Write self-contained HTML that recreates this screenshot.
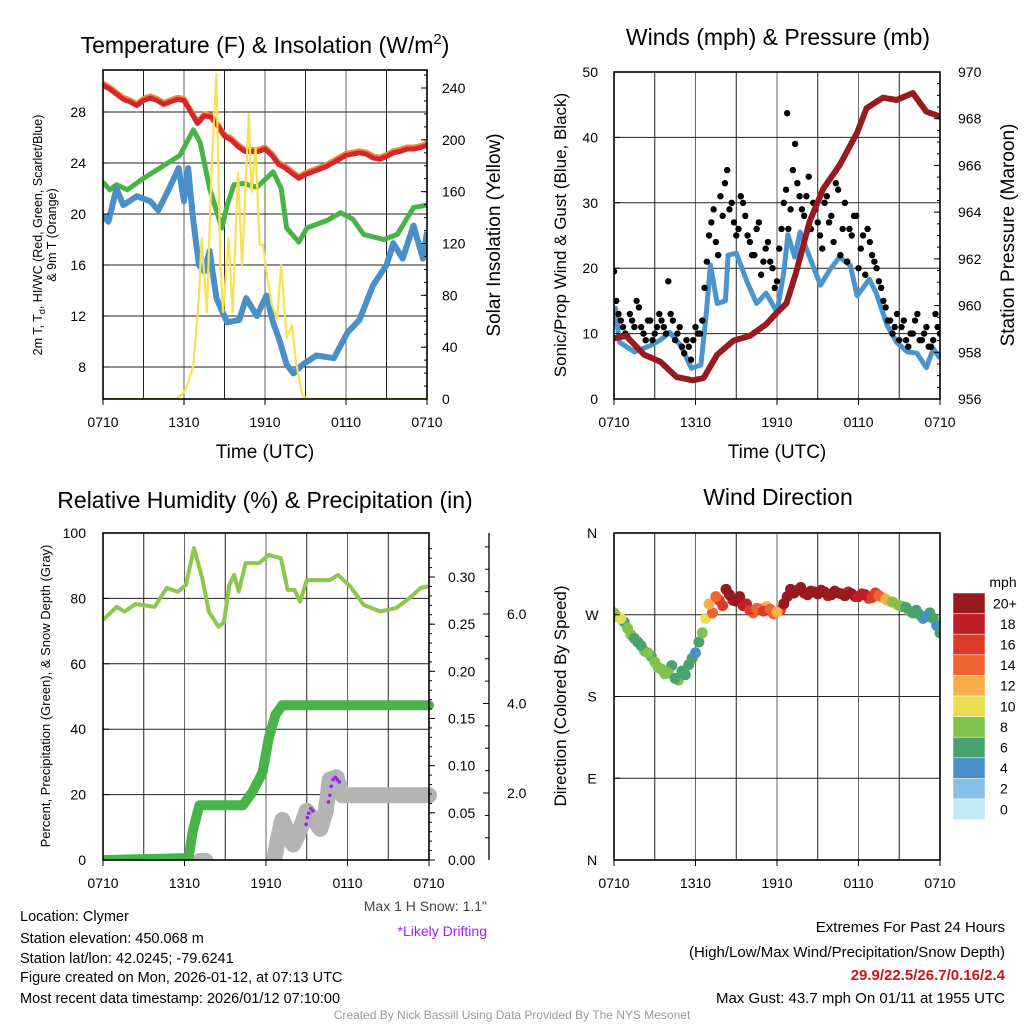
<!DOCTYPE html>
<html><head><meta charset="utf-8"><style>
body{margin:0;background:#fff;}
svg text{font-family:"Liberation Sans",sans-serif;}
</style></head><body>
<svg id="s" width="1024" height="1024" xmlns="http://www.w3.org/2000/svg">
<rect width="1024" height="1024" fill="#fff"/>
<text x="265" y="53" font-size="23" text-anchor="middle">Temperature (F) &amp; Insolation (W/m<tspan dy="-9" font-size="15">2</tspan><tspan dy="9">)</tspan></text>
<text x="778" y="45" font-size="23" text-anchor="middle">Winds (mph) &amp; Pressure (mb)</text>
<text x="265" y="508" font-size="23" text-anchor="middle">Relative Humidity (%) &amp; Precipitation (in)</text>
<text x="778" y="505" font-size="23" text-anchor="middle">Wind Direction</text>
<text transform="translate(42,235) rotate(-90)" font-size="12.5" text-anchor="middle">2m T, T<tspan dy="3" font-size="9">d</tspan><tspan dy="-3">, HI/WC (Red, Green, Scarlet/Blue)</tspan></text>
<text transform="translate(56,235) rotate(-90)" font-size="12.5" text-anchor="middle">&amp; 9m T (Orange)</text>
<text transform="translate(500,235) rotate(-90)" font-size="19" text-anchor="middle">Solar Insolation (Yellow)</text>
<text transform="translate(566,235) rotate(-90)" font-size="17" text-anchor="middle">Sonic/Prop Wind &amp; Gust (Blue, Black)</text>
<text transform="translate(1014,235) rotate(-90)" font-size="19" text-anchor="middle">Station Pressure (Maroon)</text>
<text transform="translate(50,696) rotate(-90)" font-size="13" text-anchor="middle">Percent, Precipitation (Green), &amp; Snow Depth (Gray)</text>
<text transform="translate(566,696) rotate(-90)" font-size="17" text-anchor="middle">Direction (Colored By Speed)</text>
<text x="265" y="458" font-size="19" text-anchor="middle">Time (UTC)</text>
<text x="777" y="458" font-size="19" text-anchor="middle">Time (UTC)</text>
<text x="487" y="911" font-size="14" fill="#444" text-anchor="end">Max 1 H Snow: 1.1"</text>
<text x="487" y="936" font-size="14" fill="#a020f0" text-anchor="end">*Likely Drifting</text>
<g font-size="14.5">
<text x="20" y="921">Location: Clymer</text>
<text x="20" y="943">Station elevation: 450.068 m</text>
<text x="20" y="963">Station lat/lon: 42.0245; -79.6241</text>
<text x="20" y="982">Figure created on Mon, 2026-01-12, at 07:13 UTC</text>
<text x="20" y="1003">Most recent data timestamp: 2026/01/12 07:10:00</text>
</g>
<g font-size="15" text-anchor="end">
<text x="1005" y="932">Extremes For Past 24 Hours</text>
<text x="1005" y="957">(High/Low/Max Wind/Precipitation/Snow Depth)</text>
<text x="1005" y="980" fill="#c8161d" font-weight="bold">29.9/22.5/26.7/0.16/2.4</text>
<text x="1005" y="1003">Max Gust: 43.7 mph On 01/11 at 1955 UTC</text>
</g>
<text x="512" y="1019" font-size="12" fill="#999" text-anchor="middle">Created By Nick Bassill Using Data Provided By The NYS Mesonet</text>
</svg>
<script>
// ---- data ----
const tempHr=[0,0.5,1,1.5,2,2.5,3,3.5,4,4.5,5,5.5,6,6.5,7,7.5,8,8.5,9,9.5,10,10.5,11,11.5,12,12.5,13,13.5,14,14.5,15,15.5,16,16.5,17,17.5,18,18.5,19,19.5,20,20.5,21,21.5,22,22.5,23,23.5,24];
const temp=[30.1,29.8,29.4,29.0,28.8,28.5,28.9,29.1,28.9,28.6,28.8,29.0,28.9,28.0,27.1,27.7,27.6,26.9,26.1,25.8,25.3,24.9,24.9,24.9,25.1,24.6,23.9,23.6,23.2,22.8,23.1,23.3,23.5,23.7,24.0,24.3,24.6,24.7,24.8,24.7,24.4,24.3,24.5,24.8,24.9,25.1,25.1,25.2,25.4];
const dewHr=[0,0.5,1,1.8,3,4.2,5.7,6.7,7.2,7.9,8.8,9.2,9.7,10.4,11.4,12.6,13.2,13.6,14.5,15.1,16.6,17.6,18.5,19.3,20.8,21.8,23,24];
const dew=[22.5,21.9,22.3,21.9,22.8,23.6,24.6,26.6,25.6,22.0,18.9,20.7,22.3,22.4,22.1,23.3,22.0,18.9,17.8,18.9,19.5,20.1,19.6,18.4,18.0,18.4,20.5,20.7];
const chillHr=[0,0.4,1,1.5,2.5,3.5,4.1,4.9,5.6,6.0,6.3,6.7,7.1,7.5,7.9,8.4,9.2,10.1,10.6,11.4,12.1,12.6,13.1,13.6,14.1,14.8,15.8,17.1,18.1,19,20,21,21.5,22.2,23,23.7,24];
const chill=[19.9,19.4,22.0,20.7,21.4,21.0,20.3,22.0,23.6,21.0,23.6,19.4,16.0,15.5,17.1,13.4,11.5,11.7,13.4,12.0,13.6,11.5,10.0,8.2,7.5,8.2,8.9,8.7,10.7,11.7,14.4,16.0,17.7,16.5,19.1,16.5,18.6];
const solHr=[0,5.4,5.9,6.2,6.7,7.1,7.3,7.7,8.05,8.4,8.7,8.9,9.3,9.6,10.0,10.3,10.8,11.0,11.3,11.6,11.85,12.1,12.5,12.9,13.2,13.6,14.0,14.3,14.8,15.2,24];
const sol=[0,0,4,9,26,78,124,67,180,251,103,67,124,67,175,103,220,160,194,119,119,98,73,62,103,47,57,28,2,0,0];
const presHr=[0,0.9,2.2,3.4,4.6,5.8,6.6,7.6,8.8,10,11.2,12,12.7,13.4,14.4,15.4,16.6,17.9,18.6,19.8,20.8,22,23,24];
const pres=[958.6,958.7,957.9,957.6,956.94,956.8,956.9,957.9,958.5,958.7,959.2,959.7,960.1,961.4,963.6,965.0,966.0,967.4,968.45,968.9,968.8,969.1,968.3,968.1];
const windHr=[0,0.1,0.4,1.5,2.7,3.4,4.1,4.9,5.7,6.4,6.8,7.1,7.6,8.2,8.4,9,9.8,10.5,11.2,12,12.5,12.8,13.3,13.7,14.4,15.2,15.9,16.6,17.4,17.9,18.8,19.3,20.1,20.8,21.6,22.3,23,23.5,24];
const wind=[11,13.9,8.7,7.2,8.2,9.0,10.2,8.2,4.7,5.2,13.3,20.5,14.6,15.0,22.0,22.3,17.9,14.6,16.2,13.3,19.4,25.1,21.7,25.5,21.7,17.4,19.8,21.7,20.4,15.8,18.3,16.2,11.3,8.7,7.2,7.0,4.8,7.7,6.2];
const gustA=[19.5,13,11,9.5,12,15,11,9,12,10,13,11,18,12,10,8,9,6,11,10,17,25,29,22,28,35,30,25,31,28,24,22,27,21,24,20,18,26,32,29,39,31,28,34,30,27,23,31,28,33,22,30,26,28,20,25,26,22,20,17,14,12,11,9,12,8,10,13,9,11,8,13,10];
const gustB=[15,12,10,13,11,14,10,12,9,11,12,10,13,9,11,7,8,9,10,12,21,27,24,31,33,29,27,26,30,25,22,26,19,23,21,17,23,30,26,35,33,29,31,26,29,25,30,27,24,32,26,21,25,28,23,19,24,21,18,15,12,10,13,11,9,10,12,9,10,8,9,11];
const maxGustHr=[12.75];
const maxGust=[43.7];
const rhHr=[0,1,1.6,2.4,3.8,4.7,5.5,6.1,6.7,7.3,7.8,8.5,8.9,9.3,9.65,10,10.5,11.5,12.2,13.1,13.6,14.1,14.5,15,16.2,16.7,17.3,18.2,19.2,20.4,21.6,22.6,23.4,24];
const rh=[73.4,77.4,76,78.3,77.4,83.2,82,84.1,95.4,86.2,75.9,71.3,72.7,84.1,87.2,82.1,90.8,90.8,93.3,92.3,82.6,82.6,79,85.6,85.6,85.6,87.2,83.7,78,76,77.1,80.2,83.2,83.7];
const precHr=[0,6.3,6.6,7.1,10.3,11.0,11.75,12.2,12.7,13.2,24];
const prec=[0,0.002,0.03,0.058,0.058,0.072,0.093,0.129,0.154,0.164,0.164];
const snowHr=[12.6,12.9,13.2,13.5,14.0,14.4,15.0,15.5,16.0,16.4,16.7,17.2,17.6,18,24];
const snow=[0.5,1.0,1.4,1.2,0.85,1.1,1.6,1.4,1.2,1.6,2.3,2.35,1.95,1.95,1.95];
const snowBumpHr=[7.1,7.6];
const snowBump=[0.5,0.5];
const driftHr=[14.95,15.05,15.15,15.3,15.45,16.6,16.7,16.8,16.95,17.1,17.25,17.4];
const drift=[1.3,1.45,1.55,1.65,1.6,1.8,1.95,2.15,2.3,2.35,2.3,2.25];
const dirHr=[0,0.5,1,1.5,2,2.5,3,3.5,4,4.5,5,5.5,6,6.5,7,7.5,8,8.5,9,9.5,10,10.5,11,11.5,12,12.5,13,13.5,14,14.5,15,15.5,16,16.5,17,17.5,18,18.5,19,19.5,20,20.5,21,21.5,22,22.5,23,23.5,24];
const dir=[272,266,255,244,236,228,218,210,206,200,208,215,228,250,282,290,280,292,285,280,275,277,274,276,273,282,298,297,294,296,293,295,292,294,291,293,290,292,289,291,287,284,280,278,272,270,268,266,250];
const dirSpd=[8,10,8,7,7,8,8,9,8,7,7,6,5,8,12,15,17,21,22,19,16,14,16,14,13,20,22,22,21,21,20,20,20,21,20,20,18,18,17,15,12,9,8,7,6,7,5,7,6];
const dir2Hr=[0.25,0.75,1.25,1.75,2.25,2.75,3.25,3.75,4.25,4.75,5.25,5.75,6.25,6.75,7.25,7.75,8.25,8.75,9.25,9.75,10.25,10.75,11.25,11.75,12.25,12.75,13.25,13.75,14.25,14.75,15.25,15.75,16.25,16.75,17.25,17.75,18.25,18.75,19.25,19.75,20.25,20.75,21.25,21.75,22.25,22.75,23.25,23.75];
const dir2=[268,262,248,240,230,224,212,205,214,198,204,222,240,266,272,286,298,286,290,282,272,276,279,271,275,290,294,300,292,295,297,291,296,293,295,290,293,288,294,289,285,282,279,274,275,266,272,258];
const dir2Spd=[9,7,8,6,8,7,9,8,7,8,6,7,6,10,14,16,20,19,21,18,15,17,13,15,16,21,22,21,22,20,21,19,21,20,19,19,18,17,16,13,11,10,7,8,6,5,6,5];
const cbLabels=["20+","18","16","14","12","10","8","6","4","2","0"];
const cbColors=["#961a1e","#c01f28","#dd3a2a","#ee6430","#f8ae4a","#e6df52","#80c24b","#4aa36c","#4a8fc8","#86c0e8","#c4e7f8"];
const xTicks=["0710","1310","1910","0110","0710"];

// ---- helpers ----
const S=document.getElementById('s');const NS='http://www.w3.org/2000/svg';
function mk(t,a,p){const e=document.createElementNS(NS,t);for(const k in a)e.setAttribute(k,a[k]);(p||S).appendChild(e);return e;}
function lin(d0,d1,r0,r1){return v=>r0+(v-d0)*(r1-r0)/(d1-d0);}
function path(xs,ys,fx,fy){return xs.map((h,i)=>(i?'L':'M')+fx(h).toFixed(1)+','+fy(ys[i]).toFixed(1)).join('');}
function frame(x0,y0,x1,y1,hLines,name){
  const g=mk('g',{});
  
  
  for(let i=1;i<8;i++){const x=x0+(x1-x0)*i/8;mk('line',{x1:x,x2:x,y1:y0,y2:y1,stroke:i%2?'#222':'#666','stroke-width':1},g);}
  hLines.forEach(y=>mk('line',{x1:x0,x2:x1,y1:y,y2:y,stroke:'#222','stroke-width':1},g));
  return g;
}
function border(x0,y0,x1,y1,name){const r=mk('rect',{x:x0,y:y0,width:x1-x0,height:y1-y0,fill:'none',stroke:'#000','stroke-width':1.6});
  
  
  for(let i=0;i<=4;i++){const x=x0+(x1-x0)*i/4;mk('line',{x1:x,x2:x,y1:y1,y2:y1+6,stroke:'#000'});
    const t=mk('text',{x:x,y:y1+28,'font-size':14,'text-anchor':'middle'});t.textContent=xTicks[i];
    
    }
}
function yLabels(vals,fy,x,anchor,fmt,tickX,dir,name){
  vals.forEach(v=>{const y=fy(v);mk('line',{x1:tickX,x2:tickX+dir*6,y1:y,y2:y,stroke:'#000'});
    const t=mk('text',{x:x,y:y+5,'font-size':14,'text-anchor':anchor});t.textContent=fmt(v);
    
    });
}
function clip(id,x0,y0,x1,y1){const c=mk('clipPath',{id:id});mk('rect',{x:x0,y:y0,width:x1-x0,height:y1-y0},c);}

// ---- panel 1 ----
{const X0=103,X1=427,Y0=70,Y1=399;const fx=lin(0,24,X0,X1);const fy=lin(8,28,367,112);const fs=lin(0,240,399,88);
 clip('c1',X0,Y0,X1,Y1);
 frame(X0,Y0,X1,Y1,[8,12,16,20,24,28].map(fy),'temp');
 const g=mk('g',{'clip-path':'url(#c1)'});
 let p=mk('path',{d:path(tempHr,temp,fx,fy),fill:'none',stroke:'#f08a3c','stroke-width':5,transform:'translate(0,-2)','stroke-linejoin':'round'},g);
 
 p=mk('path',{d:path(tempHr,temp,fx,fy),fill:'none',stroke:'#d7262b','stroke-width':5,'stroke-linejoin':'round'},g);
 
 p=mk('path',{d:path(dewHr,dew,fx,fy),fill:'none',stroke:'#46b446','stroke-width':5,'stroke-linejoin':'round'},g);
 
 p=mk('path',{d:path(chillHr,chill,fx,fy),fill:'none',stroke:'#4a8fc8','stroke-width':6,'stroke-linejoin':'round'},g);
 
 p=mk('path',{d:path(solHr,sol,fx,fs),fill:'none',stroke:'#f9e154','stroke-width':2.2,'stroke-linejoin':'round'},g);
 
 border(X0,Y0,X1,Y1,'temp');
 yLabels([8,12,16,20,24,28],fy,86,'end',v=>v,X0,1,'temp-y-tick');
 yLabels([0,40,80,120,160,200,240],fs,442,'start',v=>v,X1,-1,'insolation-y-tick');
 for(let v=0;v<=250;v+=10)mk('line',{x1:X1,x2:X1-3,y1:fs(v),y2:fs(v),stroke:'#000'});
}
// ---- panel 2 ----
{const X0=614,X1=940,Y0=72,Y1=399;const fx=lin(0,24,X0,X1);const fy=lin(0,50,399,72);const fp=lin(956,970,399,72);
 clip('c2',X0,Y0,X1,Y1);
 frame(X0,Y0,X1,Y1,[10,20,30,40].map(fy),'wind');
 const g=mk('g',{'clip-path':'url(#c2)'});
 let p=mk('path',{d:path(windHr,wind,fx,fy),fill:'none',stroke:'#4a94d0','stroke-width':5,'stroke-linejoin':'round'},g);
 
 gustA.forEach((v,i)=>{const c=mk('circle',{cx:fx(i/3),cy:fy(v),r:3.2,fill:'#000'},g);
   });
 gustB.forEach((v,i)=>{const c=mk('circle',{cx:fx(i/3+1/6),cy:fy(v),r:3.2,fill:'#000'},g);
   });
 maxGust.forEach((v,i)=>{const c=mk('circle',{cx:fx(maxGustHr[i]),cy:fy(v),r:3.2,fill:'#000'},g);
   });
 p=mk('path',{d:path(presHr,pres,fx,fp),fill:'none',stroke:'#961a1e','stroke-width':6,'stroke-linejoin':'round'},g);
 
 border(X0,Y0,X1,Y1,'wind');
 yLabels([0,10,20,30,40,50],fy,598,'end',v=>v,X0,1,'wind-y-tick');
 yLabels([956,958,960,962,964,966,968,970],fp,958,'start',v=>v,X1,-1,'pressure-y-tick');
 for(let v=956;v<=970;v+=0.5)mk('line',{x1:X1,x2:X1-3,y1:fp(v),y2:fp(v),stroke:'#000'});
}
// ---- panel 3 ----
{const X0=103,X1=429,Y0=533,Y1=860;const fx=lin(0,24,X0,X1);const fy=lin(0,100,860,533);const fpr=lin(0,0.3,860,577);const fsn=lin(2,6,793,614);
 clip('c3',X0,Y0-5,X1+10,Y1);
 frame(X0,Y0,X1,Y1,[20,40,60,80].map(fy),'humidity');
 const g=mk('g',{'clip-path':'url(#c3)'});
 let p=mk('path',{d:path(snowBumpHr,snowBump,fx,fsn),fill:'none',stroke:'#b4b4b4','stroke-width':14,'stroke-linecap':'round'},g);
 
 p=mk('path',{d:path(snowHr,snow,fx,fsn),fill:'none',stroke:'#b4b4b4','stroke-width':16,'stroke-linecap':'round','stroke-linejoin':'round'},g);
 
 driftHr.forEach((h,i)=>{const c=mk('circle',{cx:fx(h),cy:fsn(drift[i]),r:1.8,fill:'#a020f0'},g);
   });
 p=mk('path',{d:path(precHr,prec,fx,fpr),fill:'none',stroke:'#46b446','stroke-width':10,'stroke-linecap':'round','stroke-linejoin':'round'},g);
 
 p=mk('path',{d:path(rhHr,rh,fx,fy),fill:'none',stroke:'#8cc84b','stroke-width':4,'stroke-linejoin':'round'},g);
 
 border(X0,Y0,X1,Y1,'humidity');
 yLabels([0,20,40,60,80,100],fy,86,'end',v=>v,X0,1,'humidity-y-tick');
 yLabels([0,0.05,0.1,0.15,0.2,0.25,0.3],fpr,448,'start',v=>v.toFixed(2),X1,1,'precip-y-tick');
 for(let v=0;v<=0.34;v+=0.01)mk('line',{x1:X1,x2:X1+3,y1:fpr(v),y2:fpr(v),stroke:'#000'});
 mk('line',{x1:489,x2:489,y1:533,y2:860,stroke:'#000','stroke-width':1.3});
 yLabels([2,4,6],fsn,507,'start',v=>v.toFixed(1),489,-1,'snow-y-tick');
 for(let v=0.5;v<=7.5;v+=0.5)if(fsn(v)>533&&fsn(v)<860)mk('line',{x1:489,x2:485,y1:fsn(v),y2:fsn(v),stroke:'#000'});
}
// ---- panel 4 ----
{const X0=614,X1=940,Y0=533,Y1=860;const fx=lin(0,24,X0,X1);const fy=lin(0,360,860,533);
 clip('c4',X0,Y0,X1,Y1);
 frame(X0,Y0,X1,Y1,[90,180,270].map(fy),'direction');
 const g=mk('g',{'clip-path':'url(#c4)'});
 const col=s=>cbColors[10-Math.min(10,Math.floor(s/2))];
 dir2Hr.forEach((h,i)=>{const c=mk('circle',{cx:fx(h),cy:fy(dir2[i]),r:5.5,fill:col(dir2Spd[i])},g);
   });
 dirHr.forEach((h,i)=>{const c=mk('circle',{cx:fx(h),cy:fy(dir[i]),r:5.5,fill:col(dirSpd[i])},g);
   });
 border(X0,Y0,X1,Y1,'direction');
 const lab=['N','E','S','W','N'];
 [0,90,180,270,360].forEach((v,i)=>{const t=mk('text',{x:592,y:fy(v)+5,'font-size':14,'text-anchor':'middle'});t.textContent=lab[i];
   
   mk('line',{x1:X0,x2:X0+6,y1:fy(v),y2:fy(v),stroke:'#000'});});
 const t=mk('text',{x:1003,y:587,'font-size':14,'text-anchor':'middle'});t.textContent='mph';
 
 const bh=20.6;
 cbColors.forEach((c,i)=>{const r=mk('rect',{x:953,y:593+i*bh,width:32,height:bh,fill:c,stroke:'#fff','stroke-width':0.5});
   
   const l=mk('text',{x:1000,y:593+i*bh+bh/2+5,'font-size':14,'text-anchor':'start'});l.textContent=cbLabels[i];
   if(i===0)l.setAttribute('x',993);
   });
}
</script>
</body></html>
